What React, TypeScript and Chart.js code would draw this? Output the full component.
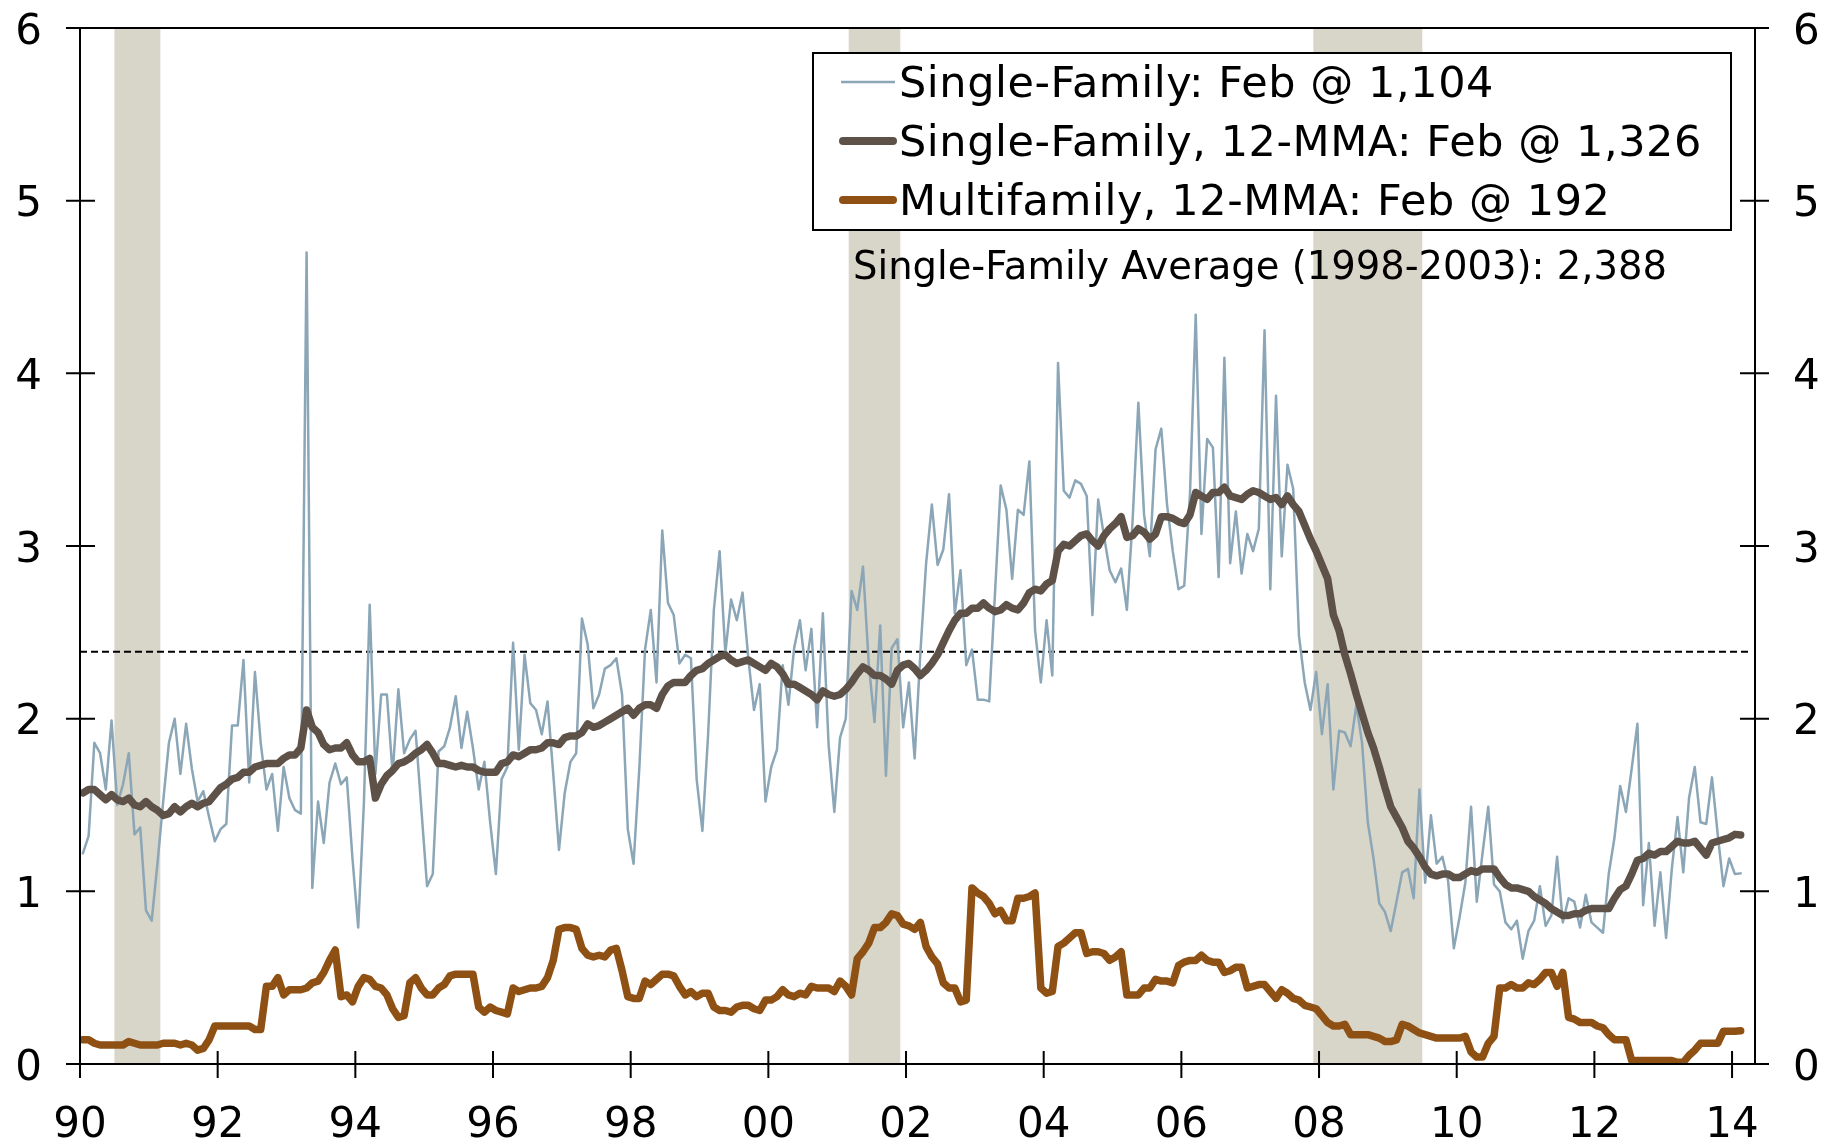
import { useEffect, useRef } from 'react';
import { Chart, registerables } from 'chart.js';

Chart.register(...registerables);

// ---- Data (monthly, Jan 1990 .. Feb 2014), millions of units ----
const START_YEAR = 1990;

const singleFamily = [
  1.22, 1.32, 1.86, 1.80, 1.59, 1.99, 1.50, 1.62, 1.80, 1.33, 1.37, 0.89,
  0.83, 1.16, 1.52, 1.86, 2.00, 1.68, 1.97, 1.71, 1.52, 1.58, 1.43, 1.29,
  1.36, 1.39, 1.96, 1.96, 2.34, 1.63, 2.27, 1.86, 1.59, 1.68, 1.35, 1.72,
  1.54, 1.47, 1.45, 4.70, 1.02, 1.52, 1.28, 1.63, 1.74, 1.62, 1.66, 1.19,
  0.79, 1.52, 2.66, 1.68, 2.14, 2.14, 1.68, 2.17, 1.80, 1.88, 1.93, 1.48,
  1.03, 1.10, 1.81, 1.84, 1.95, 2.13, 1.83, 2.04, 1.83, 1.59, 1.75, 1.40,
  1.10, 1.65, 1.72, 2.44, 1.82, 2.37, 2.09, 2.05, 1.91, 2.10, 1.68, 1.24,
  1.57, 1.75, 1.80, 2.58, 2.43, 2.06, 2.14, 2.29, 2.31, 2.35, 2.14, 1.36,
  1.16, 1.71, 2.40, 2.63, 2.21, 3.09, 2.67, 2.60, 2.32, 2.37, 2.35, 1.65,
  1.35, 1.91, 2.63, 2.97, 2.38, 2.69, 2.57, 2.73, 2.35, 2.05, 2.20, 1.52,
  1.72, 1.82, 2.31, 2.08, 2.41, 2.57, 2.28, 2.52, 1.95, 2.61, 1.85, 1.46,
  1.89, 2.00, 2.74, 2.63, 2.88, 2.32, 1.98, 2.54, 1.67, 2.41, 2.46, 1.95,
  2.21, 1.77, 2.38, 2.90, 3.24, 2.89, 2.98, 3.30, 2.61, 2.86, 2.31, 2.40,
  2.11, 2.11, 2.10, 2.72, 3.35, 3.21, 2.81, 3.21, 3.18, 3.49, 2.51, 2.21,
  2.57, 2.25, 4.06, 3.32, 3.28, 3.38, 3.36, 3.29, 2.60, 3.27, 3.06, 2.86,
  2.79, 2.87, 2.63, 3.15, 3.83, 3.18, 2.94, 3.56, 3.68, 3.24, 2.97, 2.75,
  2.77, 3.30, 4.34, 3.07, 3.62, 3.57, 2.82, 4.09, 2.90, 3.20, 2.84, 3.07,
  2.97, 3.10, 4.25, 2.75, 3.87, 2.94, 3.47, 3.33, 2.48, 2.21, 2.05, 2.27,
  1.91, 2.20, 1.59, 1.93, 1.92, 1.84, 2.08, 1.86, 1.40, 1.19, 0.93, 0.88,
  0.77, 0.94, 1.11, 1.13, 0.96, 1.59, 1.05, 1.44, 1.16, 1.20, 1.06, 0.67,
  0.85, 1.05, 1.49, 0.94, 1.22, 1.49, 1.04, 1.00, 0.82, 0.78, 0.83, 0.61,
  0.77, 0.83, 1.03, 0.80, 0.86, 1.20, 0.82, 0.96, 0.94, 0.79, 0.98, 0.82,
  0.79, 0.76, 1.10, 1.31, 1.61, 1.46, 1.71, 1.97, 0.92, 1.28, 0.80, 1.11,
  0.73, 1.13, 1.43, 1.11, 1.54, 1.72, 1.40, 1.39, 1.66, 1.33, 1.03, 1.19,
  1.10, 1.104,
];

const singleFamilyMMA = [
  1.57, 1.59, 1.59, 1.56, 1.53, 1.56, 1.53, 1.52, 1.54, 1.50, 1.49, 1.52,
  1.49, 1.47, 1.44, 1.45, 1.49, 1.46, 1.49, 1.51, 1.49, 1.51, 1.52, 1.56,
  1.60, 1.62, 1.65, 1.66, 1.69, 1.69, 1.72, 1.73, 1.74, 1.74, 1.74, 1.77,
  1.79, 1.79, 1.83, 2.05, 1.95, 1.92, 1.85, 1.82, 1.83, 1.83, 1.86, 1.79,
  1.75, 1.75, 1.77, 1.54, 1.62, 1.67, 1.70, 1.74, 1.75, 1.77, 1.80, 1.82,
  1.85, 1.80, 1.74, 1.74, 1.73, 1.72, 1.73, 1.72, 1.72, 1.70, 1.69, 1.69,
  1.69, 1.74, 1.75, 1.79, 1.78, 1.80, 1.82, 1.82, 1.83, 1.86, 1.86, 1.85,
  1.89, 1.90, 1.90, 1.92, 1.97, 1.95, 1.96, 1.98, 2.00, 2.02, 2.04, 2.06,
  2.02, 2.06, 2.08, 2.08, 2.06, 2.14, 2.19, 2.21, 2.21, 2.21, 2.25, 2.28,
  2.29, 2.32, 2.34, 2.36, 2.37, 2.34, 2.32, 2.33, 2.34, 2.32, 2.30, 2.28,
  2.32, 2.30, 2.26, 2.20, 2.20, 2.18, 2.16, 2.14, 2.11, 2.16, 2.14, 2.13,
  2.14, 2.17, 2.21, 2.26, 2.30, 2.28, 2.25, 2.25, 2.23, 2.20, 2.28, 2.31,
  2.32, 2.29, 2.25, 2.28, 2.32, 2.37, 2.44, 2.51, 2.57, 2.61, 2.61, 2.64,
  2.64, 2.67, 2.64, 2.62, 2.63, 2.66, 2.64, 2.63, 2.67, 2.73, 2.75, 2.74,
  2.78, 2.80, 2.97, 3.01, 3.00, 3.03, 3.06, 3.07, 3.03, 3.00, 3.06, 3.10,
  3.13, 3.17, 3.05, 3.06, 3.10, 3.08, 3.04, 3.07, 3.17, 3.17, 3.16, 3.14,
  3.13, 3.18, 3.31, 3.29, 3.27, 3.31, 3.31, 3.34, 3.29, 3.28, 3.27, 3.30,
  3.32, 3.31, 3.29, 3.27, 3.28, 3.24, 3.29, 3.24, 3.20, 3.12, 3.04, 2.97,
  2.89, 2.81, 2.60, 2.51, 2.37, 2.26, 2.14, 2.03, 1.92, 1.83, 1.72, 1.60,
  1.49, 1.43, 1.37, 1.29, 1.25, 1.20, 1.14, 1.10, 1.09, 1.10, 1.10, 1.08,
  1.08, 1.10, 1.12, 1.11, 1.13, 1.13, 1.13, 1.08, 1.04, 1.02, 1.02, 1.01,
  1.00, 0.97, 0.95, 0.93, 0.90, 0.88, 0.86, 0.86, 0.87, 0.87, 0.89, 0.90,
  0.90, 0.90, 0.90, 0.96, 1.01, 1.03, 1.10, 1.18, 1.19, 1.22, 1.21, 1.23,
  1.23, 1.26, 1.29, 1.28, 1.28, 1.29, 1.25, 1.21, 1.28, 1.29, 1.30, 1.31,
  1.33, 1.326,
];

const multifamilyMMA = [
  0.14, 0.14, 0.12, 0.11, 0.11, 0.11, 0.11, 0.11, 0.13, 0.12, 0.11, 0.11,
  0.11, 0.11, 0.12, 0.12, 0.12, 0.11, 0.12, 0.11, 0.08, 0.09, 0.14, 0.22,
  0.22, 0.22, 0.22, 0.22, 0.22, 0.22, 0.20, 0.20, 0.45, 0.45, 0.50, 0.40,
  0.43, 0.43, 0.43, 0.44, 0.47, 0.48, 0.53, 0.60, 0.66, 0.39, 0.40, 0.36,
  0.45, 0.50, 0.49, 0.45, 0.44, 0.40, 0.32, 0.27, 0.28, 0.47, 0.50, 0.44,
  0.40, 0.40, 0.44, 0.46, 0.51, 0.52, 0.52, 0.52, 0.52, 0.33, 0.30, 0.33,
  0.31, 0.30, 0.29, 0.44, 0.42, 0.43, 0.44, 0.44, 0.45, 0.50, 0.60, 0.78,
  0.79, 0.79, 0.78, 0.67, 0.63, 0.62, 0.63, 0.62, 0.66, 0.67, 0.54, 0.39,
  0.38, 0.38, 0.48, 0.46, 0.49, 0.52, 0.52, 0.51, 0.45, 0.40, 0.42, 0.39,
  0.41, 0.41, 0.33, 0.31, 0.31, 0.30, 0.33, 0.34, 0.34, 0.32, 0.31, 0.37,
  0.37, 0.39, 0.43, 0.40, 0.39, 0.41, 0.40, 0.45, 0.44, 0.44, 0.44, 0.42,
  0.48, 0.45, 0.40, 0.61, 0.65, 0.70, 0.79, 0.79, 0.82, 0.87, 0.86, 0.81,
  0.80, 0.78, 0.82, 0.68, 0.62, 0.58, 0.47, 0.44, 0.44, 0.36, 0.37, 1.02,
  0.99, 0.97, 0.93, 0.87, 0.89, 0.83, 0.83, 0.96, 0.96, 0.97, 0.99, 0.44,
  0.41, 0.42, 0.68, 0.70, 0.73, 0.76, 0.76, 0.64, 0.65, 0.65, 0.64, 0.60,
  0.62, 0.65, 0.40, 0.40, 0.40, 0.44, 0.44, 0.49, 0.48, 0.48, 0.47, 0.57,
  0.59, 0.60, 0.60, 0.63, 0.60, 0.59, 0.59, 0.53, 0.54, 0.56, 0.56, 0.44,
  0.45, 0.46, 0.46, 0.42, 0.38, 0.43, 0.41, 0.38, 0.37, 0.34, 0.33, 0.32,
  0.28, 0.24, 0.22, 0.22, 0.23, 0.17, 0.17, 0.17, 0.17, 0.16, 0.15, 0.13,
  0.13, 0.14, 0.23, 0.22, 0.20, 0.18, 0.17, 0.16, 0.15, 0.15, 0.15, 0.15,
  0.15, 0.16, 0.07, 0.04, 0.04, 0.12, 0.16, 0.44, 0.44, 0.46, 0.44, 0.44,
  0.47, 0.46, 0.49, 0.53, 0.53, 0.45, 0.53, 0.27, 0.26, 0.24, 0.24, 0.24,
  0.22, 0.21, 0.17, 0.14, 0.14, 0.14, 0.02, 0.02, 0.02, 0.02, 0.02, 0.02,
  0.02, 0.02, 0.01, 0.01, 0.05, 0.08, 0.12, 0.12, 0.12, 0.12, 0.19, 0.19,
  0.19, 0.192,
];

const recessionStart = [1990.5, 2001.167, 2007.917];
const recessionEnd = [1991.167, 2001.917, 2009.5];

const singleFamilyAverage = 2.388;
const averageLabel = 'Single-Family Average (1998-2003): 2,388';

const yTicks = [0, 1, 2, 3, 4, 5, 6];
const xTickYears = [1990, 1992, 1994, 1996, 1998, 2000, 2002, 2004, 2006, 2008, 2010, 2012, 2014];
const xTickLabels = ['90', '92', '94', '96', '98', '00', '02', '04', '06', '08', '10', '12', '14'];

const legendLabels = [
  'Single-Family: Feb @ 1,104',
  'Single-Family, 12-MMA: Feb @ 1,326',
  'Multifamily, 12-MMA: Feb @ 192',
];

// ---- Styles ----
const BLUE = '#8ba6b7';
const BROWN = '#5e5248';
const ORANGE = '#8f5014';
const SHADE = '#d8d5c9';
const FONT = '"DejaVu Sans", Verdana, sans-serif';

const W = 1843;
const H = 1144;

const toPoints = (arr: number[]) =>
  arr.map((v, i) => ({ x: START_YEAR + (i + 0.5) / 12, y: v }));

const framePlugin = {
  id: 'frame',
  beforeDatasetsDraw(chart: any) {
    const { ctx, scales } = chart;
    const x = scales.x;
    const y = scales.y;
    const top = y.getPixelForValue(6);
    const bottom = y.getPixelForValue(0);
    ctx.save();
    ctx.fillStyle = SHADE;
    recessionStart.forEach((s, i) => {
      const x0 = x.getPixelForValue(s);
      const x1 = x.getPixelForValue(recessionEnd[i]);
      ctx.fillRect(x0, top + 1, x1 - x0, bottom - top - 1);
    });
    ctx.restore();
  },
  afterDatasetsDraw(chart: any) {
    const { ctx, scales, chartArea } = chart;
    const x = scales.x;
    const y = scales.y;
    const L = chartArea.left;
    const R = chartArea.right;
    const T = y.getPixelForValue(6);
    const B = y.getPixelForValue(0);
    const OUT = 14;
    const IN = 15;

    ctx.save();
    ctx.strokeStyle = '#000';
    ctx.lineWidth = 2;
    ctx.lineCap = 'butt';
    ctx.beginPath();
    // frame
    ctx.moveTo(L, T); ctx.lineTo(L, B);
    ctx.moveTo(R, T); ctx.lineTo(R, B);
    ctx.moveTo(L - OUT, T); ctx.lineTo(R + OUT, T);
    ctx.moveTo(L - OUT, B); ctx.lineTo(R + OUT, B);
    // y ticks (both sides)
    yTicks.forEach((v) => {
      const py = y.getPixelForValue(v);
      ctx.moveTo(L - OUT, py); ctx.lineTo(L + IN, py);
      ctx.moveTo(R - IN, py); ctx.lineTo(R + OUT, py);
    });
    // x ticks
    xTickYears.forEach((yr) => {
      const px = x.getPixelForValue(yr);
      ctx.moveTo(px, B - 13); ctx.lineTo(px, B + 14);
    });
    ctx.stroke();

    // tick labels
    ctx.fillStyle = '#000';
    ctx.font = `42px ${FONT}`;
    ctx.textBaseline = 'alphabetic';
    yTicks.forEach((v) => {
      const py = y.getPixelForValue(v) + 15.5;
      ctx.textAlign = 'right';
      ctx.fillText(String(v), L - 38, py);
      ctx.textAlign = 'left';
      ctx.fillText(String(v), R + 38, py);
    });
    ctx.textAlign = 'center';
    xTickYears.forEach((yr, i) => {
      ctx.fillText(xTickLabels[i], x.getPixelForValue(yr), B + 73);
    });

    // legend box
    const bx = 813, by = 53, bw = 918, bh = 177;
    ctx.fillStyle = '#fff';
    ctx.fillRect(bx, by, bw, bh);
    ctx.lineWidth = 2;
    ctx.strokeStyle = '#000';
    ctx.strokeRect(bx, by, bw, bh);
    const rowY = [82, 141, 200];
    const colors = [BLUE, BROWN, ORANGE];
    const widths = [2.5, 8, 8];
    legendLabels.forEach((lab, i) => {
      ctx.beginPath();
      ctx.strokeStyle = colors[i];
      ctx.lineWidth = widths[i];
      ctx.lineCap = i === 0 ? 'butt' : 'round';
      ctx.moveTo(i === 0 ? 841 : 843, rowY[i]);
      ctx.lineTo(i === 0 ? 895 : 893, rowY[i]);
      ctx.stroke();
      ctx.fillStyle = '#000';
      ctx.font = `43px ${FONT}`;
      ctx.textAlign = 'left';
      try { (ctx as any).letterSpacing = '0.55px'; } catch (e) { /* ignore */ }
      ctx.fillText(lab, 899, rowY[i] + 15);
      try { (ctx as any).letterSpacing = '0px'; } catch (e) { /* ignore */ }
    });

    // average label
    ctx.font = `38.5px ${FONT}`;
    ctx.fillStyle = '#000';
    ctx.textAlign = 'left';
    ctx.fillText(averageLabel, 853, 279);
    ctx.restore();
  },
};

export default function App() {
  const canvasRef = useRef<HTMLCanvasElement | null>(null);

  useEffect(() => {
    const canvas = canvasRef.current;
    if (!canvas) return;
    const lastX = START_YEAR + 24.25;
    const chart = new Chart(canvas, {
      type: 'line',
      data: {
        datasets: [
          {
            label: legendLabels[2],
            data: toPoints(multifamilyMMA),
            borderColor: ORANGE,
            borderWidth: 7.5,
          },
          {
            label: legendLabels[1],
            data: toPoints(singleFamilyMMA),
            borderColor: BROWN,
            borderWidth: 7.5,
          },
          {
            label: legendLabels[0],
            data: toPoints(singleFamily),
            borderColor: BLUE,
            borderWidth: 2.5,
          },
          {
            label: averageLabel,
            data: [
              { x: START_YEAR, y: singleFamilyAverage },
              { x: lastX, y: singleFamilyAverage },
            ],
            borderColor: '#000',
            borderWidth: 2,
            borderDash: [7, 4],
            borderCapStyle: 'butt',
          },
        ],
      },
      options: {
        responsive: false,
        animation: false,
        devicePixelRatio: 1,
        layout: { padding: { left: 80, right: 88, top: 28, bottom: 80 } },
        scales: {
          x: { type: 'linear', min: 1990, max: 2014 + 4 / 12, display: false },
          y: { type: 'linear', min: 0, max: 6, display: false },
        },
        elements: {
          point: { radius: 0, hoverRadius: 0 },
          line: { tension: 0, borderJoinStyle: 'round', borderCapStyle: 'round', fill: false },
        },
        plugins: {
          legend: { display: false },
          tooltip: { enabled: false },
        },
        events: [],
      },
      plugins: [framePlugin],
    } as any);
    return () => chart.destroy();
  }, []);

  return (
    <div style={{ position: 'fixed', left: 0, top: 0, width: W, height: H, background: '#fff' }}>
      <canvas ref={canvasRef} width={W} height={H} style={{ display: 'block', width: W, height: H }} />
    </div>
  );
}
